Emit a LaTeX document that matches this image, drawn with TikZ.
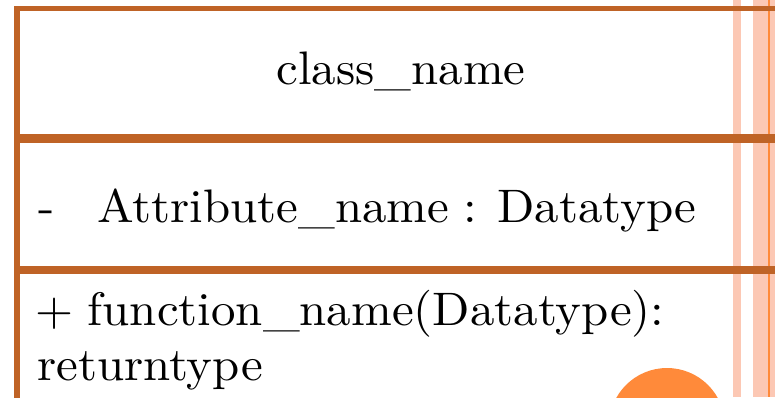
\documentclass[tikz,border=0pt]{standalone}
\usepackage{fontspec}
\newfontfamily\umlfont{lmroman10-regular}[Extension=.otf, FakeStretch=1.04, WordSpace=0.9]
\definecolor{umlbrown}{RGB}{191,99,38}
\definecolor{stripepale}{RGB}{252,200,180}
\definecolor{accentorange}{RGB}{255,138,58}
\newcommand{\umltextstyle}{\umlfont\fontsize{47}{55}\selectfont}
\begin{document}
\begin{tikzpicture}[x=1pt,y=-1pt,
  lbl/.style={inner sep=0pt, text=black, font=\umltextstyle},
  frame/.style={draw=umlbrown, line cap=butt, line join=miter}]
\useasboundingbox (0,0) rectangle (775,397);
\clip (0,0) rectangle (775,397);
% slide decoration: pale stripes, thin orange rule, round badge
\fill[stripepale] (733,0) rectangle (741,397);
\fill[stripepale] (753,0) rectangle (775,397);
\fill[accentorange] (768,0) rectangle (770,397);
\fill[accentorange] (667,426) circle (58);
% class box frame and compartment dividers
\draw[frame, line width=5.5pt] (17,405) -- (17,8.5) -- (785,8.5);
\draw[frame, line width=9pt] (14,138.5) -- (785,138.5);
\draw[frame, line width=8pt] (14,270) -- (785,270);
% compartment texts
\node[lbl, anchor=base] (cname) at (401,84) {class\_name};
\node[lbl, anchor=base west] (vis) at (38,222) {-};
\node[lbl, anchor=base west] (attr) at (97,222) {Attribute\_name : Datatype};
\node[lbl, anchor=base west] (op) at (35,325) {+ function\_name(Datatype):};
\node[lbl, anchor=base west] (ret) at (37,380) {returntype};
\end{tikzpicture}
\end{document}
